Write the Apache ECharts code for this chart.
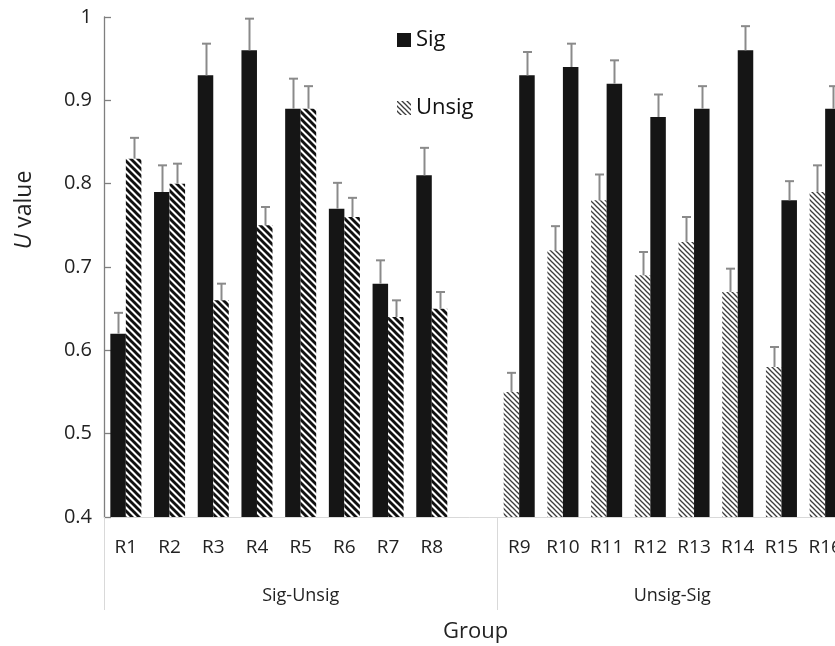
<!DOCTYPE html>
<html>
<head>
<meta charset="utf-8">
<script src="https://cdn.jsdelivr.net/npm/echarts@6/dist/echarts.min.js"></script>
<style>html,body{margin:0;padding:0;background:#fff}#c{width:835px;height:646px}</style>
</head>
<body>
<div id="c"></div>
<script>
// ---- data ----
const categories = ['R1','R2','R3','R4','R5','R6','R7','R8','','R9','R10','R11','R12','R13','R14','R15','R16'];
const groupNames = ['Sig-Unsig', 'Unsig-Sig'];
const groupSizes = [9, 8];
// Sig-Unsig group (R1..R8): Sig drawn left, Unsig right
const sigG1 = [0.62, 0.79, 0.93, 0.96, 0.89, 0.77, 0.68, 0.81];
const sigG1Err = [0.025, 0.032, 0.038, 0.038, 0.036, 0.031, 0.028, 0.033];
const unsigG1 = [0.83, 0.80, 0.66, 0.75, 0.89, 0.76, 0.64, 0.65];
const unsigG1Err = [0.025, 0.024, 0.02, 0.022, 0.027, 0.023, 0.02, 0.02];
// Unsig-Sig group (R9..R16): Unsig drawn left, Sig right
const unsigG2 = [0.55, 0.72, 0.78, 0.69, 0.73, 0.67, 0.58, 0.79];
const unsigG2Err = [0.023, 0.029, 0.031, 0.028, 0.03, 0.028, 0.024, 0.032];
const sigG2 = [0.93, 0.94, 0.92, 0.88, 0.89, 0.96, 0.78, 0.89];
const sigG2Err = [0.028, 0.028, 0.028, 0.027, 0.027, 0.029, 0.023, 0.027];
const yTicks = { min: 0.4, max: 1, interval: 0.1 };

// ---- patterns ----
function hatch(p, lw, color) {
  const c = document.createElement('canvas');
  c.width = p; c.height = p;
  const g = c.getContext('2d');
  g.fillStyle = '#fff'; g.fillRect(0, 0, p, p);
  g.strokeStyle = color; g.lineWidth = lw;
  for (let k = -1; k <= 1; k++) {
    g.beginPath();
    g.moveTo(k * p - 1, -1);
    g.lineTo(k * p + p + 1, p + 1);
    g.stroke();
  }
  return { image: c, repeat: 'repeat' };
}
const darkHatch = hatch(7, 2.9, '#111');
const lightHatch = hatch(5, 1.3, '#3c3c3c');
const BLACK = '#151515';

const n1 = groupSizes[0];
function full(arrG1, arrG2) {
  const out = categories.map(() => '-');
  arrG1 && arrG1.forEach((v, i) => out[i] = v);
  arrG2 && arrG2.forEach((v, i) => out[n1 + i] = v);
  return out;
}
// error bar data: [catIndex, value, err, slot]
const errData = [];
sigG1.forEach((v, i) => errData.push([i, v, sigG1Err[i], 0]));
unsigG1.forEach((v, i) => errData.push([i, v, unsigG1Err[i], 1]));
unsigG2.forEach((v, i) => errData.push([n1 + i, v, unsigG2Err[i], 0]));
sigG2.forEach((v, i) => errData.push([n1 + i, v, sigG2Err[i], 1]));

const GAP = 0.29;
const FONT = 'Open Sans';
const groupCenters = [];
let acc = 0;
groupSizes.forEach(s => { groupCenters.push(acc + s / 2); acc += s; });
const groupBounds = [0];
acc = 0; groupSizes.forEach(s => { acc += s; groupBounds.push(acc); });

const chart = echarts.init(document.getElementById('c'), null, { renderer: 'canvas' });
chart.setOption({
  animation: false,
  backgroundColor: '#fff',
  textStyle: { fontFamily: FONT },
  grid: { left: 104, top: 17, right: -12, bottom: 129, containLabel: false, outerBoundsMode: 'none' },
  legend: {
    orient: 'vertical', left: 397, top: 29, itemGap: 46, padding: 0,
    itemWidth: 14, itemHeight: 14, icon: 'rect',
    textStyle: { fontSize: 22, color: '#111', fontFamily: FONT },
    data: [
      { name: 'Sig', itemStyle: { color: BLACK } },
      { name: 'Unsig', itemStyle: { color: lightHatch } }
    ]
  },
  xAxis: [{
    type: 'category', data: categories, position: 'bottom',
    axisLine: { lineStyle: { color: '#d9d9d9', width: 1 } },
    axisTick: { show: false },
    axisLabel: { fontSize: 19, color: '#222', margin: 21, interval: 0, fontFamily: FONT },
    name: 'Group', nameLocation: 'middle', nameGap: 104,
    nameTextStyle: { fontSize: 22, color: '#222', fontFamily: FONT }
  }, {
    type: 'value', min: 0, max: categories.length, position: 'bottom',
    axisLine: { show: false },
    splitLine: { show: false },
    axisTick: { show: true, customValues: groupBounds, length: 93, lineStyle: { color: '#d9d9d9' } },
    axisLabel: {
      customValues: groupCenters, fontSize: 18, color: '#222', margin: 70, fontFamily: FONT,
      formatter: v => { const i = groupCenters.indexOf(v); return i >= 0 ? groupNames[i] : ''; }
    }
  }],
  yAxis: {
    type: 'value', min: yTicks.min, max: yTicks.max, interval: yTicks.interval,
    axisLine: { show: true, lineStyle: { color: '#7f7f7f', width: 1.3 } },
    axisTick: { show: true, inside: true, length: 7, lineStyle: { color: '#7f7f7f', width: 1.3 } },
    splitLine: { show: false },
    axisLabel: { fontSize: 20, color: '#222', margin: 12, fontFamily: FONT,
      formatter: v => (Math.abs(v - 1) < 1e-9 ? '1' : v.toFixed(1)) },
    name: '{u|U} value', nameLocation: 'middle', nameGap: 68,
    nameTextStyle: { fontSize: 23, color: '#222', fontFamily: FONT, padding: [0, 0, 0, 114],
      rich: { u: { fontStyle: 'italic', fontSize: 23, color: '#222', fontFamily: FONT } } }
  },
  series: [
    { name: 'Sig', type: 'bar', stack: 'L', data: full(sigG1, null), itemStyle: { color: BLACK },
      barCategoryGap: (GAP * 100) + '%', barGap: 0 },
    { name: 'Unsig', type: 'bar', stack: 'L', data: full(null, unsigG2), itemStyle: { color: lightHatch } },
    { name: 'Unsig', type: 'bar', stack: 'R', data: full(unsigG1, null), itemStyle: { color: darkHatch } },
    { name: 'Sig', type: 'bar', stack: 'R', data: full(null, sigG2), itemStyle: { color: BLACK } },
    {
      type: 'custom', z: 5, data: errData, encode: { x: 0, y: 1 },
      renderItem: (params, api) => {
        const cat = api.value(0), v = api.value(1), e = api.value(2), slot = api.value(3);
        const bw = api.size([1, 0])[0] * (1 - GAP) / 2;
        const p0 = api.coord([cat, v]);
        const p1 = api.coord([cat, v + e]);
        const x = Math.round(p0[0] + (slot === 0 ? -bw / 2 : bw / 2)) + 0.5;
        const style = { stroke: '#8a8a8a', lineWidth: 2 };
        return { type: 'group', children: [
          { type: 'line', shape: { x1: x, y1: p0[1], x2: x, y2: p1[1] }, style },
          { type: 'line', shape: { x1: x - 4.5, y1: p1[1], x2: x + 4.5, y2: p1[1] }, style }
        ] };
      }
    }
  ]
});
</script>
</body>
</html>
